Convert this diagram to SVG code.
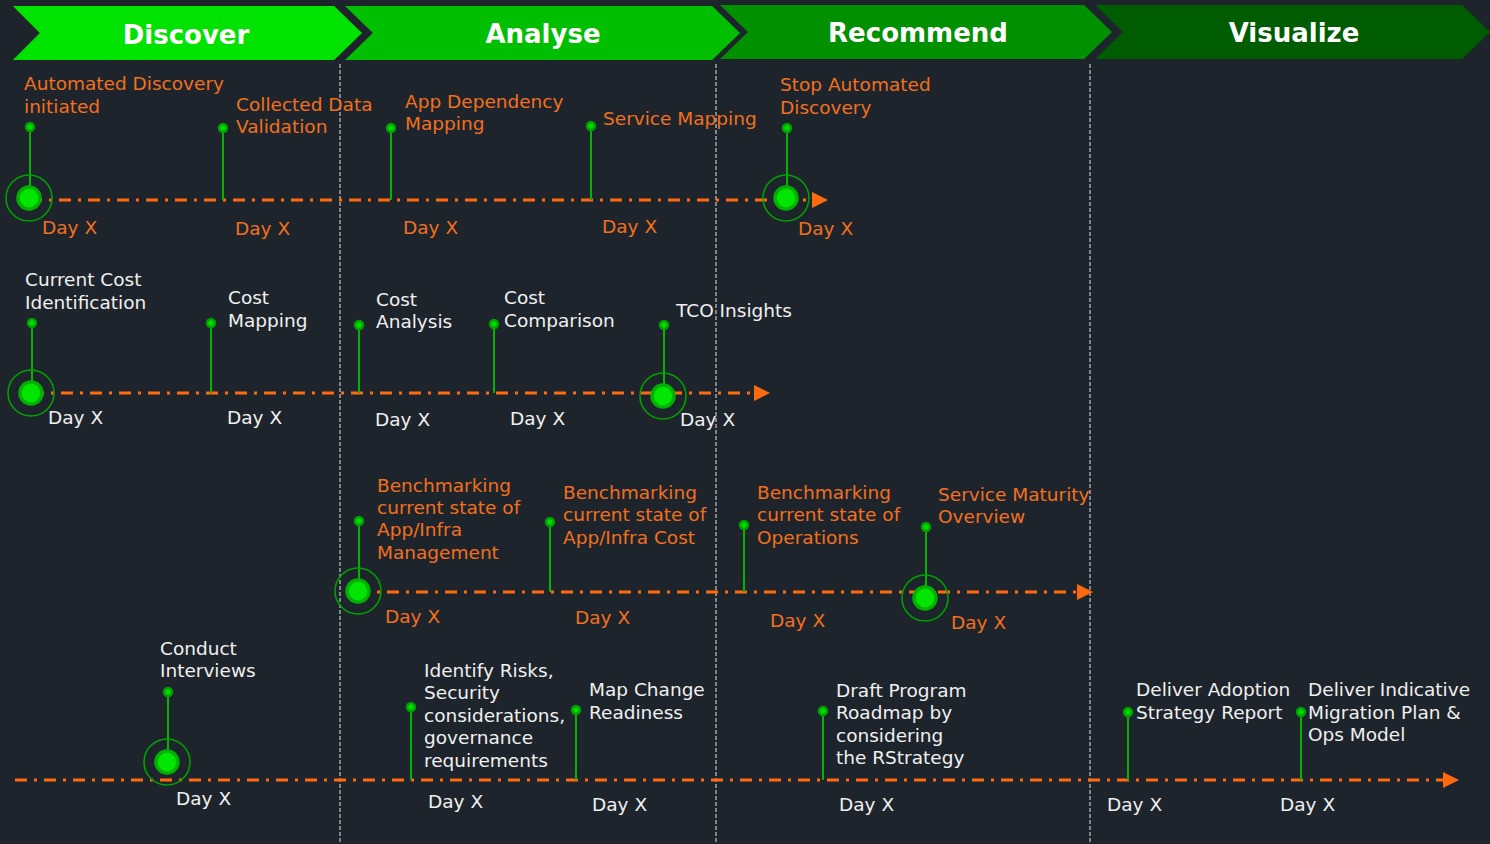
<svg xmlns="http://www.w3.org/2000/svg" width="1490" height="844" viewBox="0 0 1490 844">
<defs>
<style>
.bg{fill:#1e242c}
.hdr{font-family:"DejaVu Sans",Verdana,sans-serif;font-weight:bold;font-size:26px;fill:#ffffff;text-anchor:middle}
.chev{stroke:#1e242c;stroke-width:4;stroke-linejoin:miter}
.sep{stroke:#c8c8c8;stroke-width:1.2;stroke-dasharray:4,2;fill:none}
.tl{stroke:#ff6a10;stroke-width:3;stroke-dasharray:12,7,3,7;fill:none}
.stem{stroke:#00b400;stroke-width:2;fill:none}
.pin{fill:#00dc00;stroke:#00a000;stroke-width:2.5}
.ring{fill:none;stroke:#00a000;stroke-width:1.6}
.core{fill:#00e600;stroke:#00b000;stroke-width:3.5}
.t{font-family:"DejaVu Sans",Verdana,sans-serif;font-size:18.5px}
.o{fill:#f2701c}
.w{fill:#f0f0f0}
</style>
<marker id="arr" viewBox="0 0 10 10" refX="0" refY="5" markerWidth="16" markerHeight="16" markerUnits="userSpaceOnUse" orient="auto">
<path d="M0,0 L10,5 L0,10 z" fill="#ff6a10"/>
</marker>
</defs>
<rect class="bg" x="0" y="0" width="1490" height="844"/>

<g id="header">
<polygon class="chev" fill="#005c00" points="1090,3 1463,3 1493,32 1463,61 1090,61 1120,32"/>
<polygon class="chev" fill="#009000" points="715,3 1085,3 1115,32 1085,61 715,61 745,32"/>
<polygon class="chev" fill="#00bf00" points="340,4 713,4 743,33 713,62 340,62 370,33"/>
<polygon class="chev" fill="#00e200" points="8,4 335,4 365,33 335,62 8,62 37,33"/>
<text class="hdr" x="186" y="44">Discover</text>
<text class="hdr" x="543" y="43">Analyse</text>
<text class="hdr" x="918" y="42">Recommend</text>
<text class="hdr" x="1294" y="42">Visualize</text>
</g>

<g id="separators">
<line class="sep" x1="340" y1="64" x2="340" y2="844"/>
<line class="sep" x1="716" y1="64" x2="716" y2="844"/>
<line class="sep" x1="1090" y1="64" x2="1090" y2="844"/>
</g>

<g id="connectors">
<line class="tl" x1="30" y1="200" x2="812" y2="200" marker-end="url(#arr)"/>
<line class="tl" x1="32" y1="393" x2="754" y2="393" marker-end="url(#arr)"/>
<line class="tl" x1="358" y1="592" x2="1077" y2="592" marker-end="url(#arr)"/>
<line class="tl" x1="15" y1="780" x2="1443" y2="780" marker-end="url(#arr)"/>
<line class="stem" x1="30" y1="127" x2="30" y2="188"/>
<line class="stem" x1="223" y1="128" x2="223" y2="200"/>
<line class="stem" x1="391" y1="128" x2="391" y2="200"/>
<line class="stem" x1="591" y1="126" x2="591" y2="200"/>
<line class="stem" x1="787" y1="128" x2="787" y2="188"/>
<line class="stem" x1="32" y1="323" x2="32" y2="383"/>
<line class="stem" x1="211" y1="323" x2="211" y2="393"/>
<line class="stem" x1="359" y1="325" x2="359" y2="393"/>
<line class="stem" x1="494" y1="324" x2="494" y2="393"/>
<line class="stem" x1="664" y1="325" x2="664" y2="386"/>
<line class="stem" x1="359" y1="521" x2="359" y2="581"/>
<line class="stem" x1="550" y1="522" x2="550" y2="592"/>
<line class="stem" x1="744" y1="525" x2="744" y2="592"/>
<line class="stem" x1="926" y1="527" x2="926" y2="588"/>
<line class="stem" x1="168" y1="692" x2="168" y2="752"/>
<line class="stem" x1="411" y1="707" x2="411" y2="780"/>
<line class="stem" x1="576" y1="710" x2="576" y2="780"/>
<line class="stem" x1="823" y1="711" x2="823" y2="780"/>
<line class="stem" x1="1128" y1="712" x2="1128" y2="780"/>
<line class="stem" x1="1301" y1="712" x2="1301" y2="780"/>
</g>

<g id="r1n1"><circle class="ring" cx="29" cy="198" r="23"/><circle class="core" cx="29" cy="198" r="11"/><circle class="pin" cx="30" cy="127" r="4"/>
<text class="t o" x="24" y="90">Automated Discovery</text><text class="t o" x="24" y="113">initiated</text><text class="t o" x="42" y="234">Day X</text></g>
<g id="r1n2"><circle class="pin" cx="223" cy="128" r="4"/>
<text class="t o" x="236" y="111">Collected Data</text><text class="t o" x="236" y="133">Validation</text><text class="t o" x="235" y="235">Day X</text></g>
<g id="r1n3"><circle class="pin" cx="391" cy="128" r="4"/>
<text class="t o" x="405" y="108">App Dependency</text><text class="t o" x="405" y="130">Mapping</text><text class="t o" x="403" y="234">Day X</text></g>
<g id="r1n4"><circle class="pin" cx="591" cy="126" r="4"/>
<text class="t o" x="603" y="125">Service Mapping</text><text class="t o" x="602" y="233">Day X</text></g>
<g id="r1n5"><circle class="ring" cx="786" cy="198" r="23"/><circle class="core" cx="786" cy="198" r="11"/><circle class="pin" cx="787" cy="128" r="4"/>
<text class="t o" x="780" y="91">Stop Automated</text><text class="t o" x="780" y="114">Discovery</text><text class="t o" x="798" y="235">Day X</text></g>

<g id="r2n1"><circle class="ring" cx="31" cy="393" r="23"/><circle class="core" cx="31" cy="393" r="11"/><circle class="pin" cx="32" cy="323" r="4"/>
<text class="t w" x="25" y="286">Current Cost</text><text class="t w" x="25" y="309">Identification</text><text class="t w" x="48" y="424">Day X</text></g>
<g id="r2n2"><circle class="pin" cx="211" cy="323" r="4"/>
<text class="t w" x="228" y="304">Cost</text><text class="t w" x="228" y="327">Mapping</text><text class="t w" x="227" y="424">Day X</text></g>
<g id="r2n3"><circle class="pin" cx="359" cy="325" r="4"/>
<text class="t w" x="376" y="306">Cost</text><text class="t w" x="376" y="328">Analysis</text><text class="t w" x="375" y="426">Day X</text></g>
<g id="r2n4"><circle class="pin" cx="494" cy="324" r="4"/>
<text class="t w" x="504" y="304">Cost</text><text class="t w" x="504" y="327">Comparison</text><text class="t w" x="510" y="425">Day X</text></g>
<g id="r2n5"><circle class="ring" cx="663" cy="396" r="23"/><circle class="core" cx="663" cy="396" r="11"/><circle class="pin" cx="664" cy="325" r="4"/>
<text class="t w" x="676" y="317">TCO Insights</text><text class="t w" x="680" y="426">Day X</text></g>

<g id="r3n1"><circle class="ring" cx="358" cy="591" r="23"/><circle class="core" cx="358" cy="591" r="11"/><circle class="pin" cx="359" cy="521" r="4"/>
<text class="t o" x="377" y="492">Benchmarking</text><text class="t o" x="377" y="514">current state of</text><text class="t o" x="377" y="536">App/Infra</text><text class="t o" x="377" y="559">Management</text><text class="t o" x="385" y="623">Day X</text></g>
<g id="r3n2"><circle class="pin" cx="550" cy="522" r="4"/>
<text class="t o" x="563" y="499">Benchmarking</text><text class="t o" x="563" y="521">current state of</text><text class="t o" x="563" y="544">App/Infra Cost</text><text class="t o" x="575" y="624">Day X</text></g>
<g id="r3n3"><circle class="pin" cx="744" cy="525" r="4"/>
<text class="t o" x="757" y="499">Benchmarking</text><text class="t o" x="757" y="521">current state of</text><text class="t o" x="757" y="544">Operations</text><text class="t o" x="770" y="627">Day X</text></g>
<g id="r3n4"><circle class="ring" cx="925" cy="598" r="23"/><circle class="core" cx="925" cy="598" r="11"/><circle class="pin" cx="926" cy="527" r="4"/>
<text class="t o" x="938" y="501">Service Maturity</text><text class="t o" x="938" y="523">Overview</text><text class="t o" x="951" y="629">Day X</text></g>

<g id="r4n1"><circle class="ring" cx="167" cy="762" r="23"/><circle class="core" cx="167" cy="762" r="11"/><circle class="pin" cx="168" cy="692" r="4"/>
<text class="t w" x="160" y="655">Conduct</text><text class="t w" x="160" y="677">Interviews</text><text class="t w" x="176" y="805">Day X</text></g>
<g id="r4n2"><circle class="pin" cx="411" cy="707" r="4"/>
<text class="t w" x="424" y="677">Identify Risks,</text><text class="t w" x="424" y="699">Security</text><text class="t w" x="424" y="722">considerations,</text><text class="t w" x="424" y="744">governance</text><text class="t w" x="424" y="767">requirements</text><text class="t w" x="428" y="808">Day X</text></g>
<g id="r4n3"><circle class="pin" cx="576" cy="710" r="4"/>
<text class="t w" x="589" y="696">Map Change</text><text class="t w" x="589" y="719">Readiness</text><text class="t w" x="592" y="811">Day X</text></g>
<g id="r4n4"><circle class="pin" cx="823" cy="711" r="4"/>
<text class="t w" x="836" y="697">Draft Program</text><text class="t w" x="836" y="719">Roadmap by</text><text class="t w" x="836" y="742">considering</text><text class="t w" x="836" y="764">the RStrategy</text><text class="t w" x="839" y="811">Day X</text></g>
<g id="r4n5"><circle class="pin" cx="1128" cy="712" r="4"/>
<text class="t w" x="1136" y="696">Deliver Adoption</text><text class="t w" x="1136" y="719">Strategy Report</text><text class="t w" x="1107" y="811">Day X</text></g>
<g id="r4n6"><circle class="pin" cx="1301" cy="712" r="4"/>
<text class="t w" x="1308" y="696">Deliver Indicative</text><text class="t w" x="1308" y="719">Migration Plan &amp;</text><text class="t w" x="1308" y="741">Ops Model</text><text class="t w" x="1280" y="811">Day X</text></g>
</svg>
